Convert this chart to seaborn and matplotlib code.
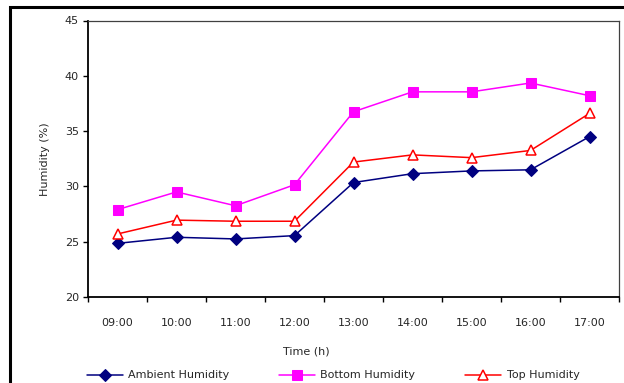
import matplotlib
matplotlib.use("Agg")
import matplotlib.pyplot as plt
from matplotlib.patches import Rectangle
import seaborn as sns
import pandas as pd

# Hourly humidity readings
times = ["09:00", "10:00", "11:00", "12:00", "13:00", "14:00", "15:00", "16:00", "17:00"]
ambient = [24.85, 25.4, 25.25, 25.55, 30.35, 31.15, 31.4, 31.5, 34.5]
bottom = [27.9, 29.5, 28.25, 30.15, 36.75, 38.55, 38.55, 39.35, 38.2]
top = [25.7, 26.95, 26.85, 26.85, 32.2, 32.85, 32.6, 33.25, 36.6]

series_names = ["Ambient Humidity", "Bottom Humidity", "Top Humidity"]
y_ticks = [20, 25, 30, 35, 40, 45]

sns.set_theme(style="white")
plt.rcParams["font.family"] = ["DejaVu Sans"]

df = pd.DataFrame({
    "pos": list(range(len(times))) * 3,
    "value": ambient + bottom + top,
    "series": [s for s in series_names for _ in times],
})

fig = plt.figure(figsize=(6.24, 3.83), dpi=100)
ax = fig.add_axes([88 / 624, 1 - 297 / 383, (619 - 88) / 624, (297 - 20.5) / 383])

styles = {
    "Ambient Humidity": dict(color="#000080", marker="D", markersize=6,
                             markerfacecolor="#000080", markeredgecolor="#000080"),
    "Bottom Humidity": dict(color="#FF00FF", marker="s", markersize=6.5,
                            markerfacecolor="#FF00FF", markeredgecolor="#FF00FF"),
    "Top Humidity": dict(color="#FF0000", marker="^", markersize=7.5,
                         markerfacecolor="white", markeredgecolor="#FF0000",
                         markeredgewidth=1.1),
}

for name in series_names:
    sub = df[df["series"] == name]
    sns.lineplot(data=sub, x="pos", y="value", ax=ax, label=name,
                 linewidth=1.1, **styles[name])

ax.set_xlim(-0.5, len(times) - 0.5)
ax.set_ylim(20, 45)
ax.set_yticks(y_ticks)
ax.set_yticklabels([str(v) for v in y_ticks], fontsize=8)

# Category axis: tick marks on boundaries, labels centred in each category
ax.set_xticks([i - 0.5 for i in range(len(times) + 1)])
ax.set_xticklabels([])
ax.set_xticks(list(range(len(times))), minor=True)
ax.set_xticklabels(times, minor=True, fontsize=8)
ax.tick_params(axis="x", which="major", direction="out", length=3.6, width=1,
               color="black", bottom=True)
ax.tick_params(axis="x", which="minor", length=0, pad=15)
ax.tick_params(axis="y", direction="out", length=3.6, width=1, color="black",
               left=True, pad=3)

for side in ["left", "bottom"]:
    ax.spines[side].set_color("black")
    ax.spines[side].set_linewidth(1.3)
for side in ["top", "right"]:
    ax.spines[side].set_color("#404040")
    ax.spines[side].set_linewidth(0.9)
ax.grid(False)

ax.set_xlabel("Time (h)", fontsize=8)
ax.xaxis.set_label_coords(0.412, -0.18)
ax.set_ylabel("Humidity (%)", fontsize=8)
ax.yaxis.set_label_coords(-0.071, 0.5)

handles, labels = ax.get_legend_handles_labels()
ax.get_legend().remove()
fig.legend(handles, labels, loc="center left",
           bbox_to_anchor=(77 / 624, 1 - 375.5 / 383),
           ncol=3, frameon=False, fontsize=8, handlelength=3.2,
           handletextpad=0.5, columnspacing=4.5)

# Outer chart-area border
fig.patches.append(Rectangle((10 / 624, -0.05), 1.2, 1 - 7 / 383 + 0.05,
                             transform=fig.transFigure, fill=False,
                             edgecolor="black", linewidth=2.2))

fig.savefig("out.png", dpi=100)
